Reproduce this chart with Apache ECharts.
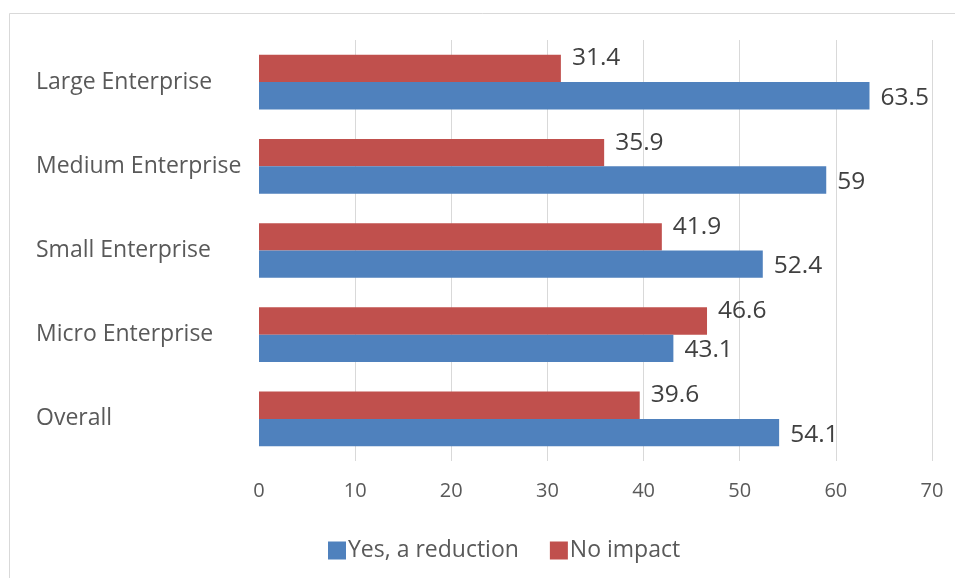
<!DOCTYPE html>
<html>
<head>
<meta charset="utf-8">
<script src="https://cdn.jsdelivr.net/npm/echarts@6/dist/echarts.min.js"></script>
<style>html,body{margin:0;padding:0;background:#fff;}#c{width:955px;height:578px;}</style>
</head>
<body>
<div id="c"></div>
<script>
const categories = ['Overall', 'Micro Enterprise', 'Small Enterprise', 'Medium Enterprise', 'Large Enterprise'];
const seriesNames = ['Yes, a reduction', 'No impact'];
const yesReduction = [54.1, 43.1, 52.4, 59, 63.5];
const noImpact = [39.6, 46.6, 41.9, 35.9, 31.4];
const xTicks = { min: 0, max: 70, interval: 10 };

const FONT = '"Open Sans", "Noto Sans", sans-serif';
const chart = echarts.init(document.getElementById('c'));
function labelStyle(dy) {
  return {
    show: true, position: 'right', distance: 11, offset: [0, dy],
    color: '#404040', fontSize: 24.5, fontFamily: FONT
  };
}
chart.setOption({
  animation: false,
  backgroundColor: '#fff',
  graphic: [{
    type: 'rect', shape: { x: 9.5, y: 13.5, width: 1200, height: 1000 },
    style: { fill: 'none', stroke: '#d9d9d9', lineWidth: 1 }, silent: true
  }],
  grid: { left: 259, right: 23, top: 40, bottom: 117, containLabel: false },
  legend: {
    left: 323, top: 534,
    itemWidth: 18, itemHeight: 18, itemGap: 31,
    icon: 'rect',
    textStyle: { color: '#595959', fontSize: 23, fontFamily: FONT, padding: [0, 0, 0, -3] },
    data: seriesNames
  },
  xAxis: {
    type: 'value', min: xTicks.min, max: xTicks.max, interval: xTicks.interval,
    axisLine: { show: false }, axisTick: { show: false },
    axisLabel: { color: '#595959', fontSize: 20, fontFamily: FONT, margin: 20 },
    splitLine: { show: true, showMinLine: false, lineStyle: { color: '#d9d9d9', width: 1 } }
  },
  yAxis: {
    type: 'category', data: categories,
    axisLine: { show: false }, axisTick: { show: false },
    axisLabel: { color: '#595959', fontSize: 23, fontFamily: FONT, align: 'left', margin: 223, padding: [3, 0, 0, 0] }
  },
  series: [
    {
      name: seriesNames[1], type: 'bar', data: noImpact,
      itemStyle: { color: '#c0504d' },
      barGap: '0%', barCategoryGap: '35%',
      label: labelStyle(-10)
    },
    {
      name: seriesNames[0], type: 'bar', data: yesReduction,
      itemStyle: { color: '#4f81bd' },
      barGap: '0%', barCategoryGap: '35%',
      label: labelStyle(2)
    }
  ]
});
</script>
</body>
</html>
